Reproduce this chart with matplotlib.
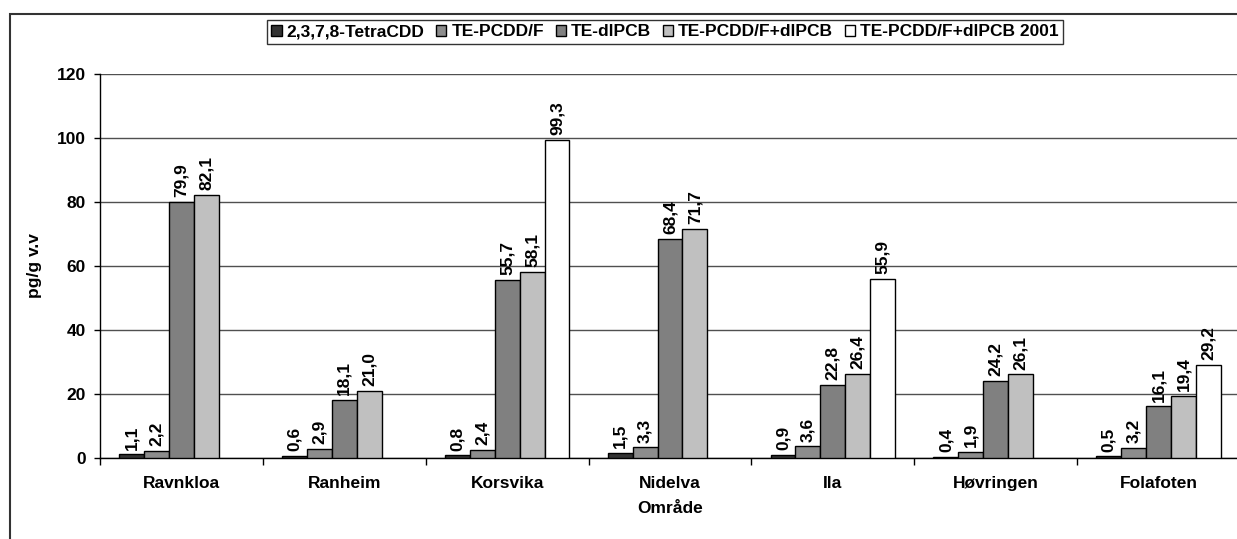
import numpy as np
import matplotlib
matplotlib.use('Agg')
import matplotlib.pyplot as plt
from matplotlib.patches import Rectangle

plt.rcParams['font.family'] = ['Liberation Sans', 'DejaVu Sans']
plt.rcParams['font.weight'] = 'bold'

areas = ['Ravnkloa', 'Ranheim', 'Korsvika', 'Nidelva', 'Ila', 'Høvringen', 'Folafoten']
series_names = ['2,3,7,8-TetraCDD', 'TE-PCDD/F', 'TE-dlPCB', 'TE-PCDD/F+dlPCB', 'TE-PCDD/F+dlPCB 2001']
tetracdd = [1.1, 0.6, 0.8, 1.5, 0.9, 0.4, 0.5]
te_pcddf = [2.2, 2.9, 2.4, 3.3, 3.6, 1.9, 3.2]
te_dlpcb = [79.9, 18.1, 55.7, 68.4, 22.8, 24.2, 16.1]
te_sum = [82.1, 21.0, 58.1, 71.7, 26.4, 26.1, 19.4]
te_sum_2001 = [None, None, 99.3, None, 55.9, None, 29.2]
colors = ['#333333', '#8c8c8c', '#808080', '#c0c0c0', '#ffffff']

fs = 12.5
fig = plt.figure(figsize=(12.37, 5.39), dpi=100)
ax = fig.add_axes([100 / 1237, 81 / 539, 1140 / 1237, 384 / 539])

x = np.arange(len(areas))
w = 0.153
all_series = [tetracdd, te_pcddf, te_dlpcb, te_sum, te_sum_2001]
handles = []
for i, (vals, col) in enumerate(zip(all_series, colors)):
    pos = x + (i - 2) * w
    v = [np.nan if a is None else a for a in vals]
    bars = ax.bar(pos, v, width=w, color=col, edgecolor='black', linewidth=1, zorder=3,
                  label=series_names[i])
    handles.append(bars)
    for p, val in zip(pos, vals):
        if val is None:
            continue
        ax.annotate(f'{val:.1f}'.replace('.', ','), (p, val), xytext=(0, 3.5),
                    textcoords='offset points', rotation=90, ha='center', va='bottom',
                    fontsize=fs, fontweight='bold')

ax.set_xlim(-0.5, len(areas) - 0.5)
ax.set_ylim(0, 120)
ax.set_yticks(range(0, 121, 20))
ax.yaxis.grid(True, color='#505050', linewidth=1, zorder=0)
ax.set_xticks(np.arange(-0.5, len(areas), 1.0))
ax.set_xticklabels([])
ax.set_xticks(x, minor=True)
ax.set_xticklabels(areas, minor=True, fontsize=fs, fontweight='bold')
ax.tick_params(axis='x', which='minor', length=0, pad=13)
ax.tick_params(axis='x', which='major', length=5, direction='out', width=1)
ax.tick_params(axis='y', length=4, width=1, labelsize=fs, pad=6)
for lab in ax.get_yticklabels():
    lab.set_fontweight('bold')
for s in ['top', 'right']:
    ax.spines[s].set_visible(False)
ax.spines['left'].set_linewidth(1)
ax.spines['bottom'].set_linewidth(1)

ax.set_xlabel('Område', fontsize=fs, fontweight='bold', labelpad=7)
ax.set_ylabel('pg/g v.v', fontsize=fs, fontweight='bold', labelpad=11)

leg = fig.legend(handles=handles, loc='center', bbox_to_anchor=(665 / 1237, 1 - 32 / 539),
                 ncol=5, fontsize=fs, frameon=True, fancybox=False, edgecolor='black',
                 handlelength=0.6, handleheight=0.6, handletextpad=0.3, columnspacing=0.65,
                 borderpad=0.25, borderaxespad=0)
leg.get_frame().set_linewidth(1)
for t in leg.get_texts():
    t.set_fontweight('bold')

fig.patches.append(Rectangle((10 / 1237, -0.1), 1.2, (539 - 14) / 539 + 0.1,
                             transform=fig.transFigure, fill=False,
                             edgecolor='#333333', linewidth=1.5))

fig.savefig('out.png', dpi=100)
